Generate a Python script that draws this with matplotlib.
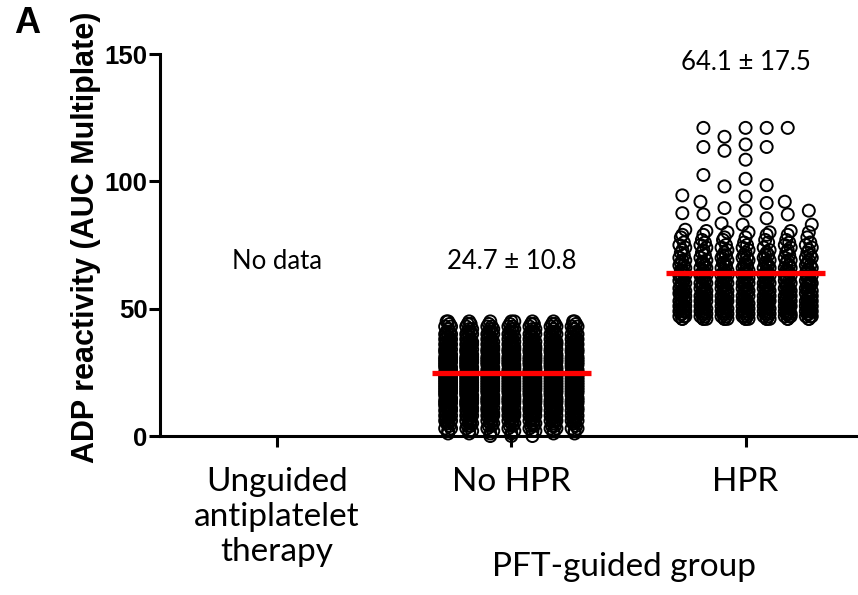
import matplotlib.pyplot as plt
import matplotlib.transforms as mtransforms
import numpy as np

# categories and summary numbers (mean +/- SD printed on the chart)
groups = ['Unguided\nantiplatelet\ntherapy', 'No HPR', 'HPR']
means = [None, 24.7, 64.1]
sds = [None, 10.8, 17.5]

# No HPR group: AUC value -> number of patients
nohpr_vals = list(range(0, 46))
nohpr_counts = [3, 6, 9, 10, 12, 13, 15, 16, 18, 19, 21, 22, 24, 25, 27, 28,
                30, 30, 31, 31, 33, 33, 33, 33, 33, 33, 31, 31, 30, 30, 28,
                27, 25, 24, 22, 21, 19, 18, 16, 15, 13, 13, 12, 12, 10, 10]

# HPR group, dense part
hpr_vals = list(range(46, 80))
hpr_counts = [18, 18, 18, 18, 16, 16, 16, 16, 15, 15, 15, 15, 13, 13, 13, 13,
              12, 12, 12, 12, 10, 10, 10, 9, 9, 9, 7, 7, 7, 6, 6, 4, 4, 4]
# HPR group, scattered high values
hpr_high = [121, 121, 121, 121, 117.5, 114.5, 113.5, 113.5, 112, 108.5,
            102.5, 101, 98.5, 98, 94.5, 94, 92, 92, 91.5, 89.5, 88.5, 88.5,
            87.5, 87, 87, 85.5, 83.5, 83, 83, 81, 80.5, 80.5, 80, 80, 80, 80]

nohpr = np.repeat(nohpr_vals, nohpr_counts).astype(float)
hpr = np.concatenate([np.repeat(hpr_vals, hpr_counts), hpr_high]).astype(float)

# pixel scale of the axes (for the swarm spacing)
XPX = 234.0   # px per category
YPX = 2.547   # px per AUC unit
DIAM = 14.0   # marker size in px


def swarm(y, center, step=0.09):
    # prism-like column scatter: free spots first, else wrap into 7 columns
    cols = [0, -1, 1, -2, 2, -3, 3]
    nudge = [0, 0.14, -0.14, 0.07, -0.07]
    last = {c: -1 for c in cols}
    used = {c: 0 for c in cols}
    ys = np.sort(y)
    px, py = [], []
    for n, v in enumerate(ys):
        pick = None
        for c in cols:
            ok = True
            j = len(py) - 1
            while j >= 0 and (v - py[j]) * YPX < DIAM:
                dx = (px[j] - c) * step * XPX
                dy = (v - py[j]) * YPX
                if dx * dx + dy * dy < DIAM * DIAM:
                    ok = False
                    break
                j -= 1
            if ok:
                pick = c
                break
        if pick is None:
            c = min(cols, key=lambda k: last[k])
            pick = c + nudge[used[c] % 5]
            used[c] += 1
        last[int(round(pick))] = n
        px.append(pick)
        py.append(v)
    return center + np.array(px) * step, np.array(py)


fig = plt.figure(figsize=(8.58, 5.95), dpi=100)
ax = fig.add_axes([0.1865, 0.2672, 0.8135, 0.6420])

for i, data in [(1, nohpr), (2, hpr)]:
    xs, ys = swarm(data, i)
    ax.scatter(xs, ys, s=75, facecolors='none', edgecolors='black',
               linewidths=1.4, clip_on=False, zorder=3)
    ax.hlines(means[i], i - 0.34, i + 0.34, color='red', lw=3.8, zorder=4)

txtfont = dict(family='Lato', fontsize=18.5, ha='center', va='center')
ax.text(0, 68.7, 'No data', **txtfont)
ax.text(1, 68.7, '%.1f \u00b1 %.1f' % (means[1], sds[1]), **txtfont)
ax.text(2, 146.5, '%.1f \u00b1 %.1f' % (means[2], sds[2]), **txtfont)

ax.set_xlim(-0.5, 2.48)
ax.set_ylim(0, 150)
ax.spines['top'].set_visible(False)
ax.spines['right'].set_visible(False)
ax.spines['left'].set_linewidth(2.2)
ax.spines['bottom'].set_linewidth(2.2)

narrow = ['Liberation Sans Narrow', 'Liberation Sans']
ax.set_yticks([0, 50, 100, 150])
ax.set_yticklabels(['0', '50', '100', '150'], family=narrow,
                   fontweight='bold', fontsize=18.5)
ax.set_xticks([0, 1, 2])
ax.set_xticklabels(groups, family='Lato', fontsize=24, linespacing=1.22)
ax.tick_params(axis='y', direction='out', length=8, width=2.2, pad=1)
ax.tick_params(axis='x', direction='out', length=8, width=2.2, pad=14)

ax.set_ylabel('ADP reactivity (AUC Multiplate)', family=narrow,
              fontweight='bold', fontsize=22, labelpad=0)
ax.yaxis.set_label_coords(-0.085, 0.52)

trans = mtransforms.blended_transform_factory(ax.transData, fig.transFigure)
ax.text(1.48, 0.047, 'PFT-guided group', family='Lato', fontsize=24,
        ha='center', va='center', transform=trans)

fig.text(0.017, 0.96, 'A', family='Liberation Sans', fontweight='bold',
         fontsize=26, va='center', ha='left')

fig.savefig('out.png', dpi=100)
